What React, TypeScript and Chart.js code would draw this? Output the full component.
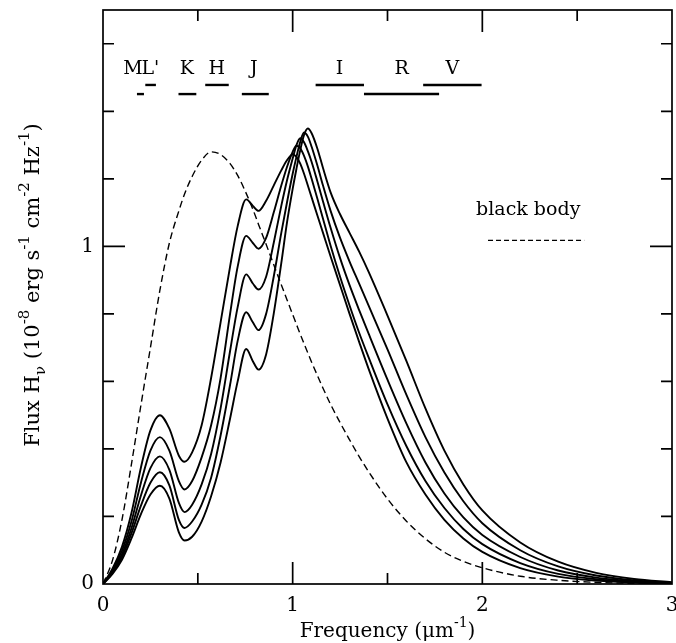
import React, { useEffect, useRef } from "react";
import { Chart, registerables } from "chart.js";

Chart.register(...registerables);

// Frequency grid (μm^-1)
const FREQ = [0, 0.05, 0.1, 0.15, 0.2, 0.25, 0.3, 0.35, 0.4, 0.43, 0.47, 0.52, 0.57, 0.62, 0.67, 0.71, 0.755, 0.79, 0.82, 0.86, 0.9, 0.94, 0.97, 1.0, 1.02, 1.04, 1.06, 1.08, 1.1, 1.13, 1.16, 1.2, 1.25, 1.3, 1.35, 1.4, 1.5, 1.6, 1.7, 1.8, 1.9, 2.0, 2.2, 2.4, 2.6, 2.8, 3.0];

// Model fluxes (10^-8 erg s^-1 cm^-2 Hz^-1)
const MODEL_A = [0, 0.045, 0.11, 0.21, 0.345, 0.455, 0.5, 0.46, 0.38, 0.362, 0.39, 0.47, 0.61, 0.775, 0.94, 1.06, 1.139, 1.12, 1.105, 1.135, 1.18, 1.225, 1.255, 1.272, 1.265, 1.245, 1.215, 1.18, 1.145, 1.092, 1.04, 0.97, 0.885, 0.8, 0.718, 0.638, 0.49, 0.36, 0.265, 0.19, 0.135, 0.095, 0.047, 0.022, 0.01, 0.004, 0.001];
const MODEL_B = [0, 0.04, 0.098, 0.185, 0.3, 0.395, 0.435, 0.395, 0.305, 0.28, 0.305, 0.375, 0.47, 0.61, 0.8, 0.94, 1.031, 1.01, 0.993, 1.025, 1.1, 1.18, 1.235, 1.28, 1.298, 1.29, 1.268, 1.237, 1.2, 1.142, 1.082, 1.002, 0.91, 0.825, 0.745, 0.672, 0.532, 0.408, 0.305, 0.225, 0.163, 0.118, 0.062, 0.03, 0.014, 0.006, 0.002];
const MODEL_C = [0, 0.036, 0.088, 0.165, 0.262, 0.343, 0.378, 0.338, 0.24, 0.213, 0.235, 0.295, 0.385, 0.52, 0.69, 0.82, 0.917, 0.89, 0.872, 0.91, 1.01, 1.12, 1.195, 1.26, 1.3, 1.32, 1.308, 1.282, 1.25, 1.193, 1.133, 1.055, 0.965, 0.885, 0.812, 0.742, 0.605, 0.475, 0.36, 0.268, 0.197, 0.145, 0.08, 0.04, 0.019, 0.008, 0.002];
const MODEL_D = [0, 0.033, 0.08, 0.15, 0.232, 0.3, 0.331, 0.292, 0.19, 0.166, 0.185, 0.235, 0.315, 0.44, 0.59, 0.72, 0.805, 0.775, 0.752, 0.8, 0.91, 1.04, 1.13, 1.215, 1.265, 1.31, 1.337, 1.325, 1.295, 1.24, 1.18, 1.105, 1.025, 0.955, 0.89, 0.825, 0.695, 0.56, 0.435, 0.33, 0.245, 0.18, 0.1, 0.052, 0.025, 0.011, 0.003];
const MODEL_E = [0, 0.03, 0.072, 0.135, 0.207, 0.265, 0.291, 0.253, 0.153, 0.129, 0.14, 0.185, 0.26, 0.36, 0.49, 0.6, 0.696, 0.66, 0.635, 0.68, 0.8, 0.95, 1.07, 1.17, 1.23, 1.285, 1.33, 1.349, 1.335, 1.29, 1.232, 1.16, 1.095, 1.04, 0.985, 0.925, 0.795, 0.66, 0.52, 0.395, 0.295, 0.218, 0.123, 0.066, 0.033, 0.015, 0.005];
const BLACK_BODY = [0, 0.07, 0.19, 0.355, 0.53, 0.7, 0.87, 1.01, 1.105, 1.155, 1.207, 1.255, 1.28, 1.272, 1.245, 1.21, 1.157, 1.11, 1.065, 1.006, 0.946, 0.886, 0.842, 0.798, 0.769, 0.74, 0.712, 0.684, 0.657, 0.618, 0.58, 0.532, 0.478, 0.427, 0.378, 0.333, 0.252, 0.186, 0.134, 0.094, 0.067, 0.048, 0.023, 0.011, 0.005, 0.002, 0.001];

// Photometric bands (μm^-1)
const BAND_NAMES = ["M", "L'", "K", "H", "J", "I", "R", "V"];
const BAND_FROM = [0.179, 0.223, 0.398, 0.539, 0.732, 1.121, 1.376, 1.688];
const BAND_TO = [0.216, 0.279, 0.492, 0.663, 0.874, 1.376, 1.772, 1.996];
const BAND_LABEL_AT = [0.158, 0.25, 0.442, 0.6, 0.795, 1.247, 1.574, 1.842];
const BAND_ROW = [0, 1, 0, 1, 0, 1, 0, 1];
const BAND_LEVELS = [1.451, 1.478];
const BAND_LABEL_LEVEL = 1.525;

// Axis
const X_MIN = 0, X_MAX = 3, X_STEP = 0.5;
const Y_MIN = 0, Y_MAX = 1.7, Y_STEP = 0.2;

// Legend placement (data units)
const LEGEND_TEXT = "black body";
const LEGEND_TEXT_AT = { x: 2.242, y: 1.107 };
const LEGEND_LINE = { x0: 2.03, x1: 2.537, y: 1.018 };

const FONT = "'DejaVu Serif', serif";
const X_TITLE = [["Frequency (μm", 0], ["-1", 1], [")", 0]];
const Y_TITLE = [["Flux H", 0], ["ν", -1], [" (10", 0], ["-8", 1], [" erg s", 0], ["-1", 1], [" cm", 0], ["-2", 1], [" Hz", 0], ["-1", 1], [")", 0]];

const isInt = (v: number) => Math.abs(v - Math.round(v)) < 1e-6;

function drawRich(ctx: CanvasRenderingContext2D, parts: any[], cx: number, baseY: number, size: number) {
  const small = Math.round(size * 0.7);
  const widths = parts.map(([t, s]) => {
    ctx.font = `${s === 0 ? size : small}px ${FONT}`;
    return ctx.measureText(t).width;
  });
  const total = widths.reduce((a, b) => a + b, 0);
  let x = cx - total / 2;
  ctx.textAlign = "left";
  ctx.textBaseline = "alphabetic";
  parts.forEach(([t, s], i) => {
    ctx.font = `${s === 0 ? size : small}px ${FONT}`;
    const dy = s === 1 ? -size * 0.5 : s === -1 ? size * 0.28 : 0;
    ctx.fillText(t, x, baseY + dy);
    x += widths[i];
  });
}

const inkPlugin = {
  id: "ink",
  afterDraw(chart: any) {
    const { ctx, chartArea: a, scales } = chart;
    const xs = scales.x, ys = scales.y;
    ctx.save();
    ctx.strokeStyle = "#000";
    ctx.fillStyle = "#000";
    ctx.lineWidth = 1.7;
    ctx.strokeRect(a.left, a.top, a.right - a.left, a.bottom - a.top);

    const MAJOR = 22, MINOR = 11;
    ctx.beginPath();
    xs.ticks.forEach((t: any) => {
      const v = t.value;
      if (v <= X_MIN + 1e-6 || v >= X_MAX - 1e-6) return;
      const px = xs.getPixelForValue(v);
      const len = isInt(v) ? MAJOR : MINOR;
      ctx.moveTo(px, a.bottom); ctx.lineTo(px, a.bottom - len);
      ctx.moveTo(px, a.top); ctx.lineTo(px, a.top + len);
    });
    ys.ticks.forEach((t: any) => {
      const v = t.value;
      if (v <= Y_MIN + 1e-6 || v >= Y_MAX - 1e-6) return;
      const py = ys.getPixelForValue(v);
      const len = isInt(v) ? MAJOR : MINOR;
      ctx.moveTo(a.left, py); ctx.lineTo(a.left + len, py);
      ctx.moveTo(a.right, py); ctx.lineTo(a.right - len, py);
    });
    ctx.stroke();

    // band labels
    ctx.font = `19px ${FONT}`;
    ctx.textAlign = "center";
    ctx.textBaseline = "middle";
    BAND_NAMES.forEach((n, i) => {
      ctx.fillText(n, xs.getPixelForValue(BAND_LABEL_AT[i]), ys.getPixelForValue(BAND_LABEL_LEVEL));
    });

    // legend
    ctx.font = `19px ${FONT}`;
    ctx.fillText(LEGEND_TEXT, xs.getPixelForValue(LEGEND_TEXT_AT.x), ys.getPixelForValue(LEGEND_TEXT_AT.y));
    ctx.beginPath();
    ctx.setLineDash([5, 3]);
    ctx.lineWidth = 1.2;
    const ly = ys.getPixelForValue(LEGEND_LINE.y);
    ctx.moveTo(xs.getPixelForValue(LEGEND_LINE.x0), ly);
    ctx.lineTo(xs.getPixelForValue(LEGEND_LINE.x1), ly);
    ctx.stroke();
    ctx.setLineDash([]);

    // axis titles
    drawRich(ctx, X_TITLE, (a.left + a.right) / 2, 637, 20);
    ctx.save();
    ctx.translate(39, 285);
    ctx.rotate(-Math.PI / 2);
    drawRich(ctx, Y_TITLE, 0, 0, 21);
    ctx.restore();
    ctx.restore();
  },
};

export default function App() {
  const ref = useRef<HTMLCanvasElement | null>(null);
  useEffect(() => {
    if (!ref.current) return;
    const solid = (data: number[]) => ({
      data: FREQ.map((f, i) => ({ x: f, y: data[i] })),
      borderColor: "#000",
      borderWidth: 1.9,
      pointRadius: 0,
      fill: false,
      cubicInterpolationMode: "monotone" as const,
    });
    const bands = BAND_NAMES.map((_, i) => ({
      data: [
        { x: BAND_FROM[i], y: BAND_LEVELS[BAND_ROW[i]] },
        { x: BAND_TO[i], y: BAND_LEVELS[BAND_ROW[i]] },
      ],
      borderColor: "#000",
      borderWidth: 2.4,
      pointRadius: 0,
      fill: false,
    }));
    const chart = new Chart(ref.current, {
      type: "line",
      data: {
        datasets: [
          solid(MODEL_A), solid(MODEL_B), solid(MODEL_C), solid(MODEL_D), solid(MODEL_E),
          {
            data: FREQ.map((f, i) => ({ x: f, y: BLACK_BODY[i] })),
            borderColor: "#000",
            borderWidth: 1.4,
            borderDash: [7, 4],
            pointRadius: 0,
            fill: false,
            cubicInterpolationMode: "monotone" as const,
          },
          ...bands,
        ],
      },
      options: {
        animation: false,
        responsive: false,
        devicePixelRatio: 1,
        layout: { padding: { left: 0, right: 4, top: 10, bottom: 0 } },
        plugins: { legend: { display: false }, tooltip: { enabled: false } },
        scales: {
          x: {
            type: "linear", min: X_MIN, max: X_MAX,
            ticks: {
              stepSize: X_STEP, autoSkip: false, maxRotation: 0, padding: 10, color: "#000",
              font: { family: FONT, size: 20 },
              callback: (v: any) => (isInt(Number(v)) ? String(Math.round(Number(v))) : ""),
            },
            grid: { display: false, drawTicks: false },
            border: { display: false },
            afterFit: (s: any) => { s.height = 59; s.paddingLeft = 0; s.paddingRight = 0; },
          },
          y: {
            type: "linear", min: Y_MIN, max: Y_MAX,
            ticks: {
              stepSize: Y_STEP, autoSkip: false, padding: 9, color: "#000",
              font: { family: FONT, size: 20 },
              callback: (v: any) => {
                const n = Number(v);
                return Math.abs(n) < 1e-6 ? "0" : Math.abs(n - 1) < 1e-6 ? "1" : "";
              },
            },
            grid: { display: false, drawTicks: false },
            border: { display: false },
            afterFit: (s: any) => { s.width = 103; s.paddingTop = 0; s.paddingBottom = 0; },
          },
        },
      },
      plugins: [inkPlugin],
    });
    return () => chart.destroy();
  }, []);
  return (
    <div style={{ position: "fixed", left: 0, top: 0, width: 676, height: 643, background: "#fff" }}>
      <canvas ref={ref} width={676} height={643} />
    </div>
  );
}
